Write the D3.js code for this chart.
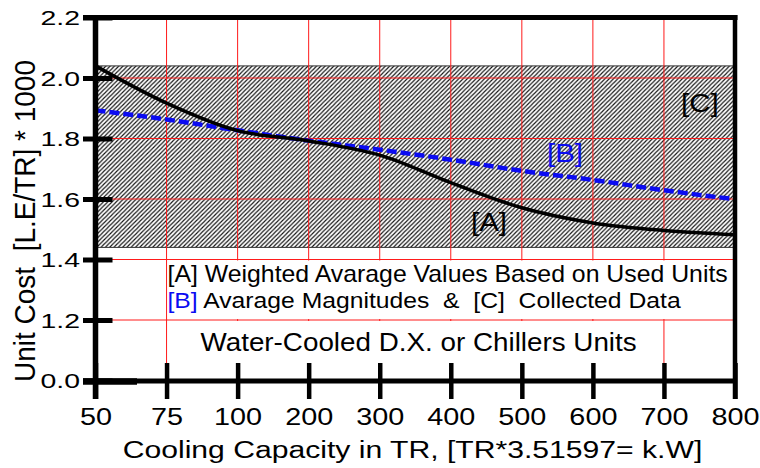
<!DOCTYPE html>
<html>
<head>
<meta charset="utf-8">
<script src="https://cdn.jsdelivr.net/npm/d3@7"></script>
<style>
	body { margin: 0; background: #fff; }
	svg { display: block; font-family: "Liberation Sans", Arial, sans-serif; }
</style>
</head>
<body>
<div id="chart"></div>
<script>
// Unit cost of water-cooled D.X. / chiller units vs cooling capacity.

// Cooling capacity categories (TR), evenly spaced on the x axis
var capacity = ["50", "75", "100", "200", "300", "400", "500", "600", "700", "800"];

// [A] weighted average values based on used units (L.E/TR * 1000)
var weightedA = [2.04, 1.917, 1.826, 1.792, 1.745, 1.654, 1.571, 1.521, 1.496, 1.482];

// [B] average magnitudes
var averageB = [1.893, 1.863, 1.827, 1.793, 1.763, 1.730, 1.693, 1.663, 1.629, 1.599];

// [C] collected data band (low, high)
var collectedC = [1.44, 2.04];

// y ticks: axis is broken, bottom tick is labelled 0.0
var yTickValues = [1.0, 1.2, 1.4, 1.6, 1.8, 2.0, 2.2];
var yTickLabels = ["0.0", "1.2", "1.4", "1.6", "1.8", "2.0", "2.2"];
var yGrid = [1.2, 1.4, 1.6, 1.8, 2.0];

var width = 760,
	height = 468;

var svg = d3.select("#chart").append("svg")
	.attr("width", width)
	.attr("height", height);

var x = d3.scalePoint()
	.domain(capacity)
	.range([95.5, 735]);

var y = d3.scaleLinear()
	.domain([1.0, 2.2])
	.range([380.5, 17.5]);

var left = x.range()[0], right = x.range()[1];

// hatch pattern for the collected data band
var defs = svg.append("defs");
var pat = defs.append("pattern")
	.attr("id", "hatch")
	.attr("patternUnits", "userSpaceOnUse")
	.attr("width", 4.3)
	.attr("height", 4.3);
pat.append("rect").attr("width", 4.3).attr("height", 4.3).attr("fill", "#fff");
pat.append("path")
	.attr("d", "M0,4.3 L4.3,0 M-1,1 L1,-1 M3.3,5.3 L5.3,3.3")
	.attr("stroke", "#111")
	.attr("stroke-width", 1.15);

// band [C]
svg.append("rect")
	.attr("x", left)
	.attr("y", y(collectedC[1]))
	.attr("width", right - left)
	.attr("height", y(collectedC[0]) - y(collectedC[1]))
	.attr("fill", "url(#hatch)")
	.attr("stroke", "#333")
	.attr("stroke-width", 1);

// vertical red grid lines
svg.selectAll("line.vgrid")
	.data(capacity.slice(1, -1))
	.enter()
		.append("line")
		.attr("class", "vgrid")
		.attr("x1", function(d) { return x(d); })
		.attr("x2", function(d) { return x(d); })
		.attr("y1", y(2.2))
		.attr("y2", 363)
		.attr("stroke", "#ff1a1a")
		.attr("stroke-width", 1);

// white boxes behind the legend and the title
svg.append("rect")
	.attr("x", x("75") + 2).attr("y", y(1.4) + 1)
	.attr("width", right - x("75") - 4).attr("height", y(1.2) - y(1.4) - 2)
	.attr("fill", "#fff");
svg.append("rect")
	.attr("x", x("75") + 2).attr("y", y(1.2) + 1)
	.attr("width", x("700") - x("75") - 4).attr("height", 362 - y(1.2))
	.attr("fill", "#fff");

// horizontal red grid lines
svg.selectAll("line.hgrid")
	.data(yGrid)
	.enter()
		.append("line")
		.attr("class", "hgrid")
		.attr("x1", left)
		.attr("x2", right)
		.attr("y1", function(d) { return y(d); })
		.attr("y2", function(d) { return y(d); })
		.attr("stroke", "#ff1a1a")
		.attr("stroke-width", 1);

// curves
var lineB = d3.line()
	.x(function(d, i) { return x(capacity[i]); })
	.y(function(d) { return y(d); })
	.curve(d3.curveMonotoneX);

var lineA = d3.line()
	.x(function(d, i) { return x(capacity[i]); })
	.y(function(d) { return y(d); })
	.curve(d3.curveCatmullRom.alpha(0.5));

svg.append("path")
	.datum(averageB)
	.attr("d", lineB)
	.attr("fill", "none")
	.attr("stroke", "#0b0bf2")
	.attr("stroke-width", 4.5)
	.attr("stroke-dasharray", "10,4");

svg.append("path")
	.datum(weightedA)
	.attr("d", lineA)
	.attr("fill", "none")
	.attr("stroke", "#000")
	.attr("stroke-width", 3.5);

// frame
svg.append("line")
	.attr("x1", 83).attr("x2", right + 2.5)
	.attr("y1", y(2.2)).attr("y2", y(2.2))
	.attr("stroke", "#000").attr("stroke-width", 5);
svg.append("line")
	.attr("x1", right).attr("x2", right)
	.attr("y1", y(2.2) - 2.5).attr("y2", 399)
	.attr("stroke", "#000").attr("stroke-width", 4.5);

// y axis
var yAxis = d3.axisLeft(y)
	.tickValues(yTickValues)
	.tickFormat(function(d, i) { return yTickLabels[i]; })
	.tickSize(0);

var gy = svg.append("g")
	.attr("transform", "translate(" + left + ",0)")
	.call(yAxis);
gy.select(".domain").remove();
gy.selectAll(".tick line")
	.attr("x1", -12.5).attr("x2", 17)
	.attr("stroke", "#000").attr("stroke-width", 5);
gy.selectAll(".tick text")
	.attr("x", null)
	.attr("dy", "0.36em")
	.attr("transform", "translate(-15.5,0) scale(1.42,1)")
	.attr("fill", "#000")
	.style("font-size", "20px")
	.style("font-family", "'Liberation Sans', Arial, sans-serif");
gy.append("line")
	.attr("x1", 0).attr("x2", 0)
	.attr("y1", y(2.2) - 2.5).attr("y2", 399)
	.attr("stroke", "#000").attr("stroke-width", 5.5);

// x axis
var xAxis = d3.axisBottom(x).tickSize(0);
var gx = svg.append("g")
	.attr("transform", "translate(0," + (y(1.0) + 0.5) + ")")
	.call(xAxis);
gx.select(".domain").remove();
gx.append("line")
	.attr("x1", 83).attr("x2", right + 2)
	.attr("y1", 0).attr("y2", 0)
	.attr("stroke", "#000").attr("stroke-width", 5);
gx.append("line")
	.attr("x1", 83).attr("x2", 137)
	.attr("y1", 0.5).attr("y2", 0.5)
	.attr("stroke", "#000").attr("stroke-width", 6.5);
gx.selectAll(".tick line")
	.attr("y1", -18).attr("y2", 18)
	.attr("stroke", "#000").attr("stroke-width", 4.5);
gx.selectAll(".tick text")
	.attr("y", 0)
	.attr("dy", 0)
	.attr("transform", "translate(0,44) scale(1.2,1)")
	.attr("fill", "#000")
	.style("font-size", "24px")
	.style("font-family", "'Liberation Sans', Arial, sans-serif");

// helper for horizontally stretched text
function addText(str, tx, ty, size, sx, anchor, colour) {
	return svg.append("text")
		.attr("transform", "translate(" + tx + "," + ty + ") scale(" + sx + ",1)")
		.attr("text-anchor", anchor || "start")
		.attr("fill", colour || "#000")
		.style("font-size", size + "px")
		.style("white-space", "pre")
		.text(str);
}

// axis titles
svg.append("text")
	.attr("transform", "translate(35,221) rotate(-90)")
	.attr("text-anchor", "middle")
	.attr("textLength", 322)
	.attr("lengthAdjust", "spacingAndGlyphs")
	.style("font-size", "29px")
	.style("white-space", "pre")
	.text("Unit Cost  [L.E/TR] * 1000");

addText("Cooling Capacity in TR, [TR*3.51597= k.W]", 412.5, 457.5, 23, 1.31, "middle");

// series labels
addText("[A]", 471, 230.5, 25, 1.18);
addText("[B]", 547, 161.5, 25, 1.18, "start", "#0b0bf2");
addText("[C]", 681, 111.5, 25, 1.18);

// legend
addText("[A] Weighted Avarage Values Based on Used Units", 167.5, 281.5, 23, 1.08);
var leg2 = addText("", 167.5, 308, 23, 1.075);
leg2.append("tspan").attr("fill", "#0b0bf2").text("[B]");
leg2.append("tspan").text(" Avarage Magnitudes  &  [C]  Collected Data");

addText("Water-Cooled D.X. or Chillers Units", 200.5, 351, 26, 1.07);
</script>
</body>
</html>
